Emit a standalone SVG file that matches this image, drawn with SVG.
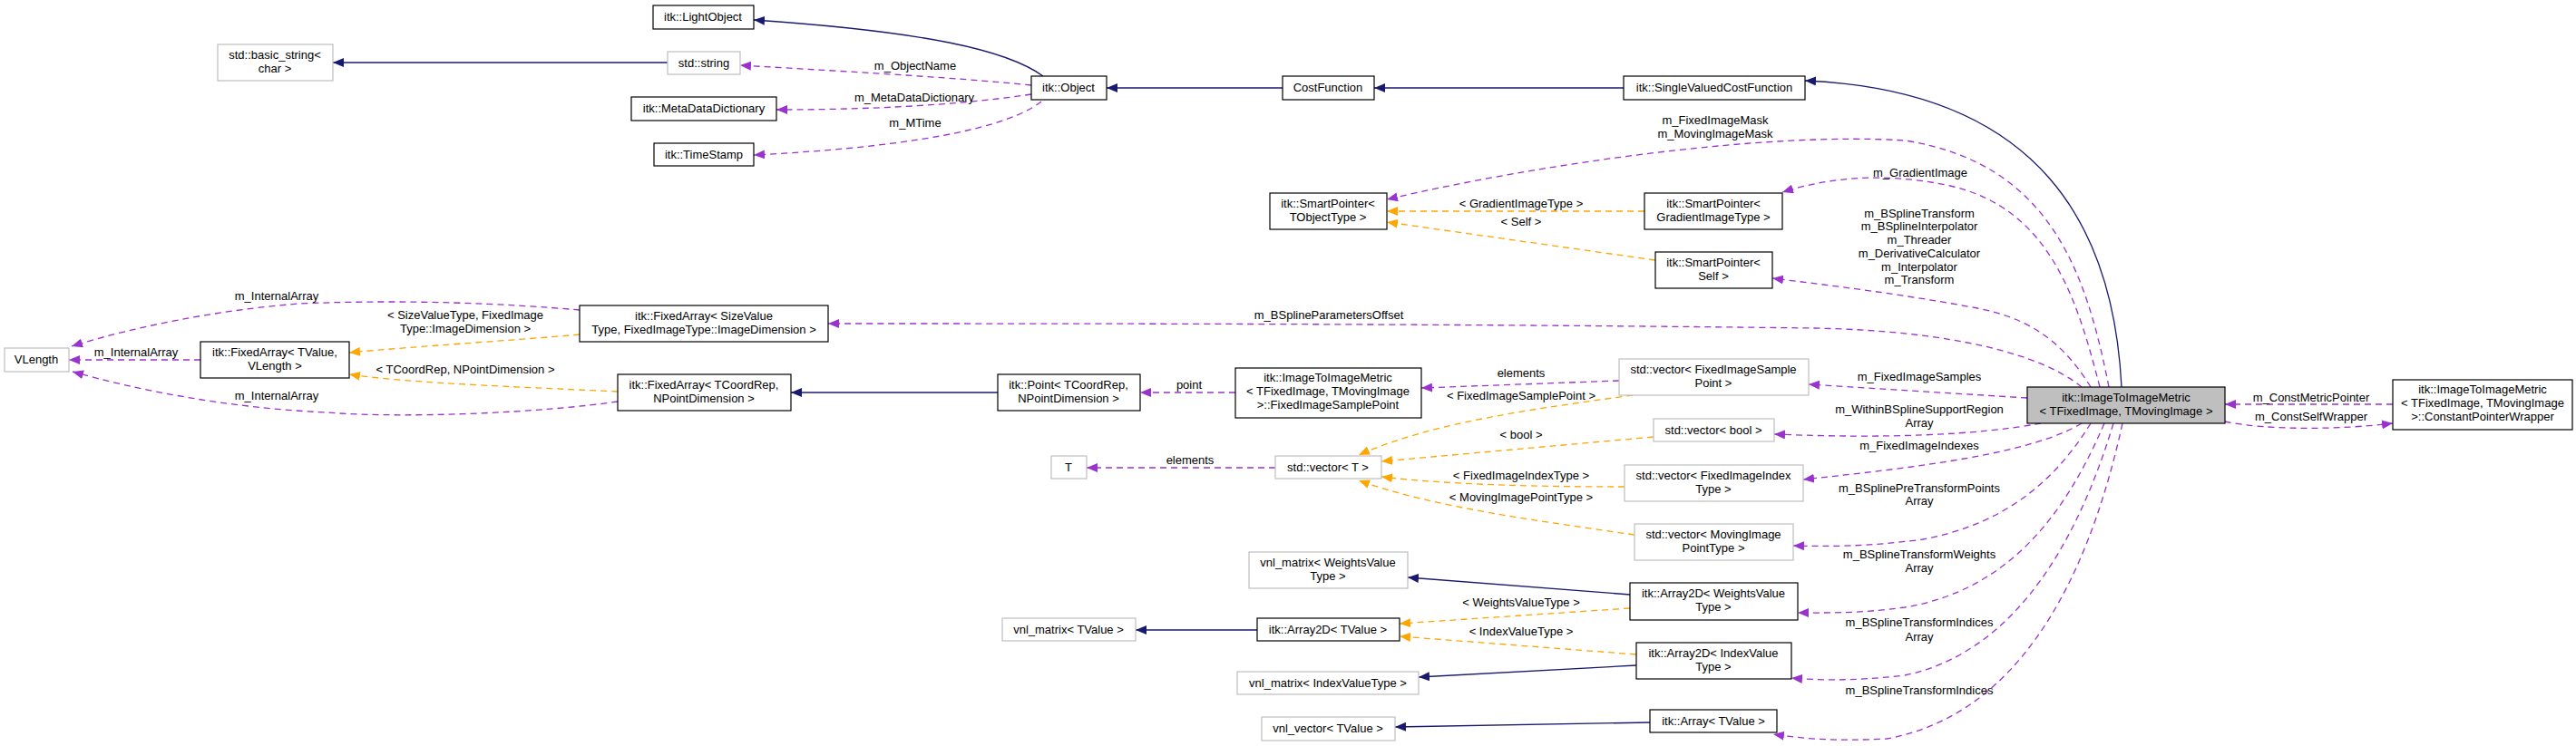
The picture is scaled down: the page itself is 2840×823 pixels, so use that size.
<svg xmlns="http://www.w3.org/2000/svg" width="2840" height="823" viewBox="0 0 2840 823">
<style>
text{font-family:"Liberation Sans",Arial,sans-serif;font-size:13px;fill:#000;text-anchor:middle}
.n rect{fill:#fff;stroke:#000;stroke-width:1.2}
.g rect{fill:#fff;stroke:#bfbfbf;stroke-width:1.2}
.c rect{fill:#bfbfbf;stroke:#000;stroke-width:1.2}
.inh{fill:none;stroke:#191970;stroke-width:1.3}
.use{fill:none;stroke:#9a32cd;stroke-width:1.3;stroke-dasharray:7,5}
.tpl{fill:none;stroke:#ffa500;stroke-width:1.3;stroke-dasharray:7,5}
</style>
<defs>
<marker id="an" markerWidth="12" markerHeight="10" refX="12" refY="5" orient="auto" markerUnits="userSpaceOnUse"><path d="M0,0L12,5L0,10z" fill="#191970"/></marker>
<marker id="ap" markerWidth="12" markerHeight="10" refX="12" refY="5" orient="auto" markerUnits="userSpaceOnUse"><path d="M0,0L12,5L0,10z" fill="#9a32cd"/></marker>
<marker id="ao" markerWidth="12" markerHeight="10" refX="12" refY="5" orient="auto" markerUnits="userSpaceOnUse"><path d="M0,0L12,5L0,10z" fill="#ffa500"/></marker>
</defs>
<g id="edges">
<path class="inh" marker-end="url(#an)" d="M1150,84C1110,55 1020,35 831,22"/>
<path class="inh" marker-end="url(#an)" d="M736,69L367,69"/>
<path class="use" marker-end="url(#ap)" d="M1137,94C1050,85 900,77 816,72"/>
<path class="use" marker-end="url(#ap)" d="M1137,104C1050,117 950,121 856,121"/>
<path class="use" marker-end="url(#ap)" d="M1148,112C1100,150 950,165 831,171"/>
<path class="inh" marker-end="url(#an)" d="M1414,97L1220,97"/>
<path class="inh" marker-end="url(#an)" d="M1790,97L1515,97"/>
<path class="inh" marker-end="url(#an)" d="M2339,427C2330,250 2250,100 1990,89"/>
<path class="use" marker-end="url(#ap)" d="M2325,427C2300,300 2260,180 2100,155C1950,145 1700,180 1529,220"/>
<path class="use" marker-end="url(#ap)" d="M2315,427C2290,330 2260,230 2150,205C2080,190 2020,195 1965,212"/>
<path class="tpl" marker-end="url(#ao)" d="M1813,233L1529,233"/>
<path class="tpl" marker-end="url(#ao)" d="M1825,287L1529,245"/>
<path class="use" marker-end="url(#ap)" d="M2305,427C2270,370 2230,350 2180,340C2100,325 2020,315 1954,307"/>
<path class="use" marker-end="url(#ap)" d="M2295,427C2250,390 2150,365 2000,362C1600,357 1200,357 913,357"/>
<path class="use" marker-end="url(#ap)" d="M639,342C560,335 450,330 330,335C240,342 150,360 79,382"/>
<path class="tpl" marker-end="url(#ao)" d="M639,369C560,376 460,382 385,389"/>
<path class="use" marker-end="url(#ap)" d="M221,397L76,397"/>
<path class="tpl" marker-end="url(#ao)" d="M681,432C600,428 450,423 385,413"/>
<path class="use" marker-end="url(#ap)" d="M681,443C600,455 450,462 360,455C250,450 150,430 80,410"/>
<path class="inh" marker-end="url(#an)" d="M1100,433L872,433"/>
<path class="use" marker-end="url(#ap)" d="M1362,433L1257,433"/>
<path class="use" marker-end="url(#ap)" d="M1785,420L1567,428"/>
<path class="tpl" marker-end="url(#ao)" d="M1800,436C1700,450 1580,465 1498,502"/>
<path class="tpl" marker-end="url(#ao)" d="M1823,482L1523,509"/>
<path class="tpl" marker-end="url(#ao)" d="M1791,537C1700,537 1600,535 1523,526"/>
<path class="tpl" marker-end="url(#ao)" d="M1802,590C1700,575 1580,560 1498,530"/>
<path class="use" marker-end="url(#ap)" d="M1406,516L1198,516"/>
<path class="inh" marker-end="url(#an)" d="M1797,656L1552,637"/>
<path class="tpl" marker-end="url(#ao)" d="M1797,671L1543,688"/>
<path class="inh" marker-end="url(#an)" d="M1386,695L1252,695"/>
<path class="tpl" marker-end="url(#ao)" d="M1804,722L1543,702"/>
<path class="inh" marker-end="url(#an)" d="M1804,734L1564,747"/>
<path class="inh" marker-end="url(#an)" d="M1819,797L1538,802"/>
<path class="use" marker-end="url(#ap)" d="M2235,439L1994,424"/>
<path class="use" marker-end="url(#ap)" d="M2250,467C2180,480 2080,484 1956,479"/>
<path class="use" marker-end="url(#ap)" d="M2295,467C2240,500 2120,515 1988,529"/>
<path class="use" marker-end="url(#ap)" d="M2305,467C2260,540 2200,580 2120,595C2060,603 2020,603 1977,602"/>
<path class="use" marker-end="url(#ap)" d="M2320,467C2280,560 2220,650 2100,670C2050,677 2010,676 1982,676"/>
<path class="use" marker-end="url(#ap)" d="M2330,467C2290,600 2220,720 2100,745C2040,752 2000,750 1975,748"/>
<path class="use" marker-end="url(#ap)" d="M2340,467C2300,650 2220,790 2080,815C2020,818 1990,815 1955,810"/>
<path class="use" marker-end="url(#ap)" d="M2638,446L2453,446"/>
<path class="use" marker-end="url(#ap)" d="M2453,465C2500,475 2580,474 2638,467"/>
</g>
<g id="labels">
<text x="1009" y="77">m_ObjectName</text>
<text x="1008" y="112">m_MetaDataDictionary</text>
<text x="1009" y="140">m_MTime</text>
<text x="1891" y="137">m_FixedImageMask</text>
<text x="1891" y="152">m_MovingImageMask</text>
<text x="2117" y="195">m_GradientImage</text>
<text x="2116" y="240">m_BSplineTransform</text>
<text x="2116" y="254">m_BSplineInterpolator</text>
<text x="2116" y="269">m_Threader</text>
<text x="2116" y="284">m_DerivativeCalculator</text>
<text x="2116" y="299">m_Interpolator</text>
<text x="2116" y="313">m_Transform</text>
<text x="1465" y="352">m_BSplineParametersOffset</text>
<text x="305" y="331">m_InternalArray</text>
<text x="513" y="352">&lt; SizeValueType, FixedImage</text>
<text x="513" y="367">Type::ImageDimension &gt;</text>
<text x="150" y="393">m_InternalArray</text>
<text x="513" y="412">&lt; TCoordRep, NPointDimension &gt;</text>
<text x="305" y="441">m_InternalArray</text>
<text x="1677" y="229">&lt; GradientImageType &gt;</text>
<text x="1677" y="249">&lt; Self &gt;</text>
<text x="1311" y="429">point</text>
<text x="1677" y="416">elements</text>
<text x="1677" y="441">&lt; FixedImageSamplePoint &gt;</text>
<text x="1677" y="484">&lt; bool &gt;</text>
<text x="1312" y="512">elements</text>
<text x="1677" y="529">&lt; FixedImageIndexType &gt;</text>
<text x="1677" y="553">&lt; MovingImagePointType &gt;</text>
<text x="1677" y="669">&lt; WeightsValueType &gt;</text>
<text x="1677" y="701">&lt; IndexValueType &gt;</text>
<text x="2116" y="420">m_FixedImageSamples</text>
<text x="2116" y="456">m_WithinBSplineSupportRegion</text>
<text x="2116" y="471">Array</text>
<text x="2116" y="496">m_FixedImageIndexes</text>
<text x="2116" y="543">m_BSplinePreTransformPoints</text>
<text x="2116" y="557">Array</text>
<text x="2116" y="616">m_BSplineTransformWeights</text>
<text x="2116" y="631">Array</text>
<text x="2116" y="691">m_BSplineTransformIndices</text>
<text x="2116" y="707">Array</text>
<text x="2116" y="766">m_BSplineTransformIndices</text>
<text x="2548" y="443">m_ConstMetricPointer</text>
<text x="2548" y="464">m_ConstSelfWrapper</text>
</g>
<g id="n_lightobject" class="n"><rect x="720" y="6" width="111" height="26"/><text x="775" y="23">itk::LightObject</text></g>
<g id="n_basicstring" class="g"><rect x="240" y="49" width="127" height="40"/><text x="303" y="65">std::basic_string&lt;</text><text x="303" y="80">char &gt;</text></g>
<g id="n_string" class="g"><rect x="736" y="57" width="80" height="25"/><text x="776" y="74">std::string</text></g>
<g id="n_mdd" class="n"><rect x="696" y="107" width="160" height="26"/><text x="776" y="124">itk::MetaDataDictionary</text></g>
<g id="n_timestamp" class="n"><rect x="721" y="158" width="110" height="25"/><text x="776" y="175">itk::TimeStamp</text></g>
<g id="n_object" class="n"><rect x="1137" y="84" width="83" height="26"/><text x="1178" y="101">itk::Object</text></g>
<g id="n_costfunction" class="n"><rect x="1414" y="84" width="101" height="26"/><text x="1464" y="101">CostFunction</text></g>
<g id="n_svcf" class="n"><rect x="1790" y="84" width="200" height="26"/><text x="1890" y="101">itk::SingleValuedCostFunction</text></g>
<g id="n_sp_tobj" class="n"><rect x="1400" y="213" width="129" height="40"/><text x="1464" y="229">itk::SmartPointer&lt;</text><text x="1464" y="244">TObjectType &gt;</text></g>
<g id="n_sp_grad" class="n"><rect x="1813" y="213" width="152" height="40"/><text x="1889" y="229">itk::SmartPointer&lt;</text><text x="1889" y="244">GradientImageType &gt;</text></g>
<g id="n_sp_self" class="n"><rect x="1825" y="278" width="129" height="40"/><text x="1889" y="294">itk::SmartPointer&lt;</text><text x="1889" y="309">Self &gt;</text></g>
<g id="n_fa_size" class="n"><rect x="639" y="337" width="274" height="40"/><text x="776" y="353">itk::FixedArray&lt; SizeValue</text><text x="776" y="368">Type, FixedImageType::ImageDimension &gt;</text></g>
<g id="n_vlength" class="g"><rect x="5" y="384" width="71" height="26"/><text x="40" y="401">VLength</text></g>
<g id="n_fa_tvalue" class="n"><rect x="221" y="377" width="164" height="40"/><text x="303" y="393">itk::FixedArray&lt; TValue,</text><text x="303" y="408">VLength &gt;</text></g>
<g id="n_fa_tcoord" class="n"><rect x="681" y="413" width="191" height="40"/><text x="776" y="429">itk::FixedArray&lt; TCoordRep,</text><text x="776" y="444">NPointDimension &gt;</text></g>
<g id="n_point" class="n"><rect x="1100" y="413" width="157" height="40"/><text x="1178" y="429">itk::Point&lt; TCoordRep,</text><text x="1178" y="444">NPointDimension &gt;</text></g>
<g id="n_fisp" class="n"><rect x="1362" y="406" width="205" height="55"/><text x="1464" y="421">itk::ImageToImageMetric</text><text x="1464" y="436">&lt; TFixedImage, TMovingImage</text><text x="1464" y="451">&gt;::FixedImageSamplePoint</text></g>
<g id="n_vec_fisp" class="g"><rect x="1785" y="396" width="209" height="40"/><text x="1889" y="412">std::vector&lt; FixedImageSample</text><text x="1889" y="427">Point &gt;</text></g>
<g id="n_T" class="g"><rect x="1159" y="503" width="39" height="25"/><text x="1178" y="520">T</text></g>
<g id="n_vec_T" class="g"><rect x="1406" y="503" width="117" height="25"/><text x="1464" y="520">std::vector&lt; T &gt;</text></g>
<g id="n_vec_bool" class="g"><rect x="1823" y="462" width="133" height="25"/><text x="1889" y="479">std::vector&lt; bool &gt;</text></g>
<g id="n_vec_fii" class="g"><rect x="1791" y="513" width="197" height="40"/><text x="1889" y="529">std::vector&lt; FixedImageIndex</text><text x="1889" y="544">Type &gt;</text></g>
<g id="n_vec_mip" class="g"><rect x="1802" y="578" width="175" height="40"/><text x="1889" y="594">std::vector&lt; MovingImage</text><text x="1889" y="609">PointType &gt;</text></g>
<g id="n_vnl_w" class="g"><rect x="1377" y="609" width="175" height="40"/><text x="1464" y="625">vnl_matrix&lt; WeightsValue</text><text x="1464" y="640">Type &gt;</text></g>
<g id="n_a2d_w" class="n"><rect x="1797" y="643" width="185" height="41"/><text x="1889" y="659">itk::Array2D&lt; WeightsValue</text><text x="1889" y="674">Type &gt;</text></g>
<g id="n_vnl_tv" class="g"><rect x="1105" y="682" width="147" height="25"/><text x="1178" y="699">vnl_matrix&lt; TValue &gt;</text></g>
<g id="n_a2d_tv" class="n"><rect x="1386" y="682" width="157" height="25"/><text x="1464" y="699">itk::Array2D&lt; TValue &gt;</text></g>
<g id="n_a2d_i" class="n"><rect x="1804" y="709" width="171" height="40"/><text x="1889" y="725">itk::Array2D&lt; IndexValue</text><text x="1889" y="740">Type &gt;</text></g>
<g id="n_vnl_i" class="g"><rect x="1364" y="741" width="200" height="25"/><text x="1464" y="758">vnl_matrix&lt; IndexValueType &gt;</text></g>
<g id="n_vnl_vec" class="g"><rect x="1391" y="791" width="147" height="26"/><text x="1464" y="808">vnl_vector&lt; TValue &gt;</text></g>
<g id="n_array" class="n"><rect x="1819" y="783" width="140" height="25"/><text x="1889" y="800">itk::Array&lt; TValue &gt;</text></g>
<g id="n_main" class="c"><rect x="2235" y="427" width="218" height="40"/><text x="2344" y="443">itk::ImageToImageMetric</text><text x="2344" y="458">&lt; TFixedImage, TMovingImage &gt;</text></g>
<g id="n_cpw" class="n"><rect x="2638" y="419" width="198" height="55"/><text x="2737" y="434">itk::ImageToImageMetric</text><text x="2737" y="449">&lt; TFixedImage, TMovingImage</text><text x="2737" y="464">&gt;::ConstantPointerWrapper</text></g>
</svg>
